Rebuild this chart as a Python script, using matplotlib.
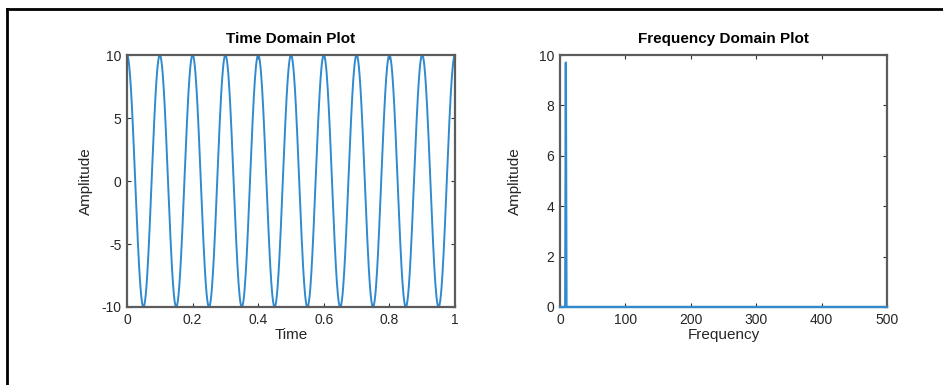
"""
Time and frequency domain view of a 10 Hz test tone, MATLAB style.

Output:
    out.png
"""

import numpy as np
import matplotlib

matplotlib.use("Agg")
import matplotlib.pyplot as plt
from matplotlib.lines import Line2D


# signal parameters
SIGNAL_AMPLITUDE = 10.0
SIGNAL_FREQ_HZ = 10.0
SAMPLE_RATE_HZ = 1000.0  # the spectrum runs up to 500 Hz (Nyquist)
DURATION_S = 1.0

# spectrum: flat zero apart from one peak near 10 Hz
SPECTRUM_FREQ = [0, 8, 9, 10, 500]
SPECTRUM_AMP = [0.0, 0.0, 9.7, 0.0, 0.0]

TIME_TICKS = [0, 0.2, 0.4, 0.6, 0.8, 1]
TIME_TICK_LABELS = ["0", "0.2", "0.4", "0.6", "0.8", "1"]
TIME_AMP_TICKS = [-10, -5, 0, 5, 10]
FREQ_TICKS = [0, 100, 200, 300, 400, 500]
FREQ_AMP_TICKS = [0, 2, 4, 6, 8, 10]

LINE_COLOR = "#2f8ad0"
AXIS_COLOR = "#5c5c5c"
TEXT_COLOR = "#262626"

plt.rcParams["font.family"] = ["Liberation Sans", "DejaVu Sans"]
plt.rcParams["axes.unicode_minus"] = False


def style_axes(ax):
    for spine in ax.spines.values():
        spine.set_color(AXIS_COLOR)
        spine.set_linewidth(1.6)
    ax.tick_params(direction="in", top=True, right=True, length=3, width=0.8,
                   color="#333333", labelsize=10, labelcolor=TEXT_COLOR, pad=4)


def main():
    fig = plt.figure(figsize=(9.43, 3.85), dpi=100)

    # thin page frame on the left and top edges
    fig.add_artist(Line2D([0.0079, 0.0079], [0, 0.977], transform=fig.transFigure,
                          color="black", linewidth=2))
    fig.add_artist(Line2D([0.0079, 1.0], [0.977, 0.977], transform=fig.transFigure,
                          color="black", linewidth=2))

    ax_time = fig.add_axes([0.1347, 0.2026, 0.3478, 0.6545])
    ax_freq = fig.add_axes([0.5938, 0.2026, 0.3468, 0.6545])

    t = np.arange(0, DURATION_S + 1 / SAMPLE_RATE_HZ, 1 / SAMPLE_RATE_HZ)
    signal = SIGNAL_AMPLITUDE * np.cos(2 * np.pi * SIGNAL_FREQ_HZ * t)

    ax_time.plot(t, signal, color=LINE_COLOR, linewidth=1.4)
    ax_time.set_xlim(0, 1)
    ax_time.set_ylim(-10, 10)
    ax_time.set_xticks(TIME_TICKS)
    ax_time.set_xticklabels(TIME_TICK_LABELS)
    ax_time.set_yticks(TIME_AMP_TICKS)
    ax_time.set_title("Time Domain Plot", fontsize=11, fontweight="bold", color="black", pad=9)
    ax_time.set_xlabel("Time", fontsize=11, color=TEXT_COLOR, labelpad=1)
    ax_time.set_ylabel("Amplitude", fontsize=11, color=TEXT_COLOR, labelpad=6)
    style_axes(ax_time)

    ax_freq.plot(SPECTRUM_FREQ, SPECTRUM_AMP, color=LINE_COLOR, linewidth=1.6,
                 zorder=3, clip_on=False)
    ax_freq.set_xlim(0, 500)
    ax_freq.set_ylim(0, 10)
    ax_freq.set_xticks(FREQ_TICKS)
    ax_freq.set_yticks(FREQ_AMP_TICKS)
    ax_freq.set_title("Frequency Domain Plot", fontsize=11, fontweight="bold", color="black", pad=9)
    ax_freq.set_xlabel("Frequency", fontsize=11, color=TEXT_COLOR, labelpad=1)
    ax_freq.set_ylabel("Amplitude", fontsize=11, color=TEXT_COLOR, labelpad=12)
    style_axes(ax_freq)

    fig.savefig("out.png", dpi=100, facecolor="white")
    plt.close(fig)


if __name__ == "__main__":
    main()
